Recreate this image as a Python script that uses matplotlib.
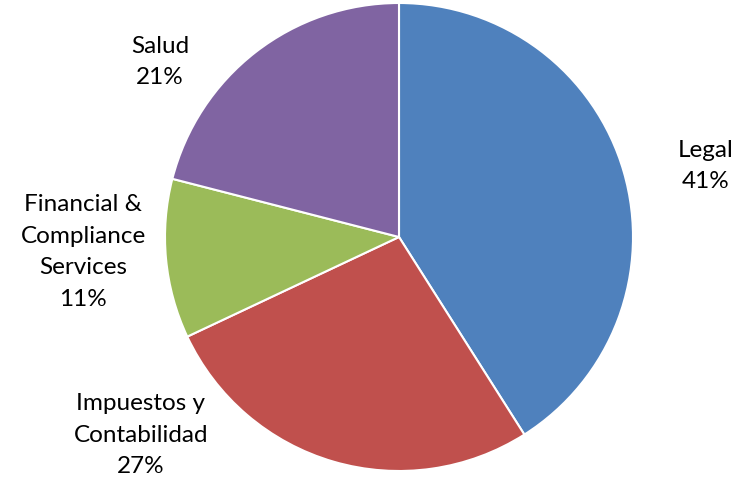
import matplotlib
matplotlib.use('Agg')
import matplotlib.pyplot as plt

plt.rcParams['font.family'] = ['Lato', 'DejaVu Sans']

# datos del gráfico
categorias = ['Legal', 'Impuestos y\nContabilidad', 'Financial &\nCompliance\nServices', 'Salud']
porcentajes = [41, 27, 11, 21]
colores = ['#4F81BD', '#C0504D', '#9BBB59', '#8064A2']

# posición de cada etiqueta (píxeles: centro x, centro y del bloque)
pos_etiquetas = [(706, 166), (141, 435), (83, 252), (160, 62)]

W, H = 744, 478
cx, cy, r = 399, 237, 234

fig = plt.figure(figsize=(W / 100, H / 100), dpi=100)
ax = fig.add_axes([0, 0, 1, 1])

ax.pie(porcentajes, colors=colores, startangle=90, counterclock=False,
       radius=1, wedgeprops=dict(edgecolor='white', linewidth=1.5))

ax.set_xlim(-cx / r, (W - cx) / r)
ax.set_ylim(-(H - cy) / r, cy / r)
ax.set_aspect('equal')
ax.axis('off')

for cat, pct, (px, py) in zip(categorias, porcentajes, pos_etiquetas):
    x = (px - cx) / r
    y = (cy - py) / r
    ax.text(x, y, f'{cat}\n{pct}%', ha='center', va='center',
            fontsize=17.5, color='black', linespacing=1.62)

plt.savefig('out.png', dpi=100)
plt.close()
